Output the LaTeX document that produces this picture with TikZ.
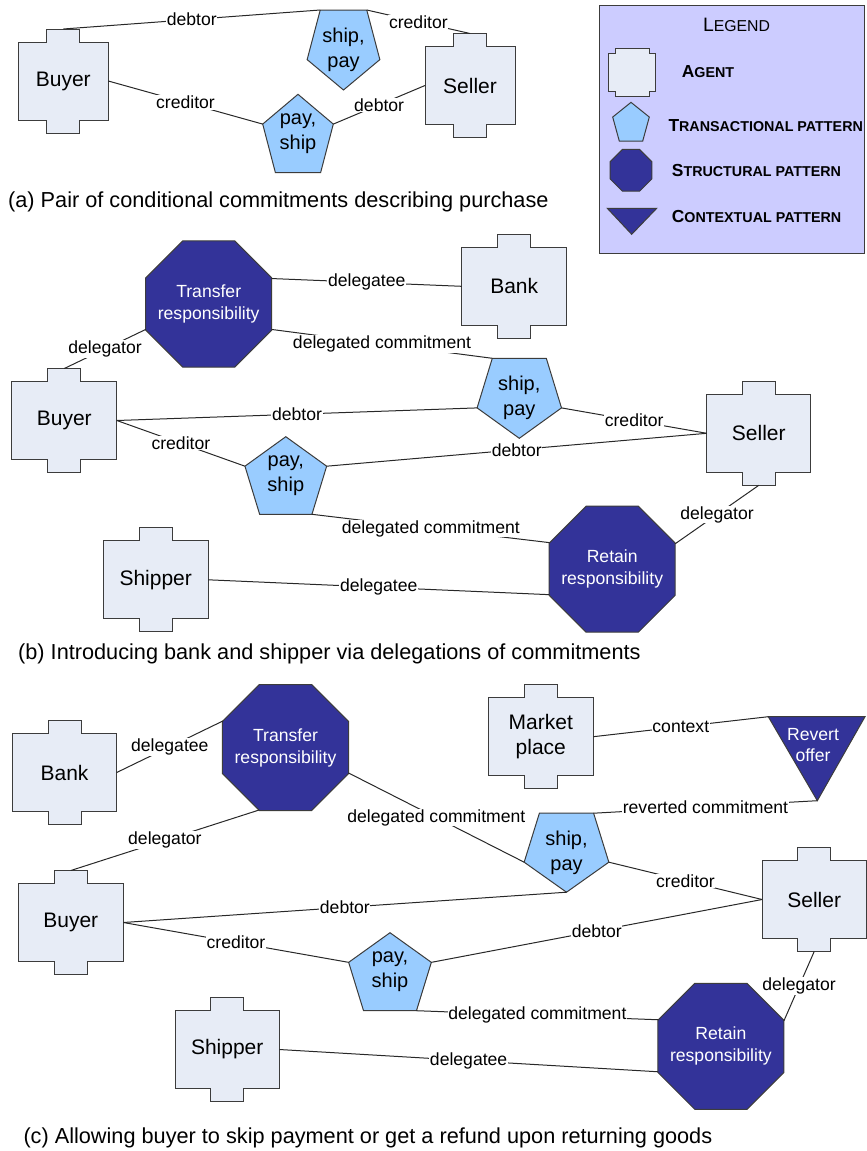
\documentclass[tikz,border=0pt]{standalone}
\usepackage{fontspec}
\setmainfont{Liberation Sans}
\usetikzlibrary{shapes.geometric}
\definecolor{agentfill}{RGB}{231,236,246}
\definecolor{transfill}{RGB}{153,204,255}
\definecolor{structfill}{RGB}{51,51,153}
\definecolor{legendfill}{RGB}{204,204,255}
\definecolor{linecol}{RGB}{40,40,40}
\definecolor{bordercol}{RGB}{60,60,60}
\tikzset{
  agentshape/.style={fill=agentfill, draw=bordercol, line width=1pt},
  agenttext/.style={rectangle, minimum height=78pt, inner sep=0pt, outer sep=0pt, draw=none, align=center, font=\fontsize{21}{25}\selectfont},
  transshape/.style={fill=transfill, draw=bordercol, line width=1pt},
  transtext/.style={inner sep=0pt, outer sep=0pt, align=center, font=\fontsize{20}{25}\selectfont},
  structpat/.style={regular polygon, regular polygon sides=8, minimum size=136.4pt, inner sep=0pt, outer sep=0pt, fill=structfill, draw=bordercol, line width=1pt},
  contextshape/.style={fill=structfill, draw=bordercol, line width=1pt},
  whitetext/.style={inner sep=0pt, text=white, align=center, font=\fontsize{17.6}{21}\selectfont},
  conn/.style={draw=linecol, line width=1pt},
  lbl/.style={midway, fill=white, inner sep=0.6pt, font=\fontsize{17.6}{20}\selectfont},
  caption/.style={anchor=base west, inner sep=0pt, font=\fontsize{21.7}{26}\selectfont},
  legtext/.style={anchor=base west, inner sep=0pt, font=\bfseries\fontsize{17.4}{20}\selectfont},
}
% agent: name, cx, cy, body width, text
\newcommand\agentnode[5]{%
  \draw[agentshape] (#2-#4/2,#3-39) -- (#2-16.5,#3-39) -- (#2-16.5,#3-52) -- (#2+16.5,#3-52) -- (#2+16.5,#3-39) -- (#2+#4/2,#3-39) -- (#2+#4/2,#3+39) -- (#2+16.5,#3+39) -- (#2+16.5,#3+52) -- (#2-16.5,#3+52) -- (#2-16.5,#3+39) -- (#2-#4/2,#3+39) -- cycle;
  \node[agenttext, minimum width=#4pt] (#1) at (#2,#3) {#5};
  \coordinate (#1-top) at (#2,#3-52);
  \coordinate (#1-bot) at (#2,#3+52);
}
% transactional pattern: name, cx, cy, W, H, dir (1 apex up, -1 apex down), text
\newcommand\transnode[7]{%
  \begin{scope}[shift={(#2,#3)}, yscale=#6]
    \draw[transshape] (0,-#5/2) coordinate (#1-a) -- (#4/2,-#5/2+0.38*#5) coordinate (#1-r) -- (0.32*#4,#5/2) coordinate (#1-br) -- (-0.32*#4,#5/2) coordinate (#1-bl) -- (-#4/2,-#5/2+0.38*#5) coordinate (#1-l) -- cycle;
  \end{scope}
  \node[transtext] (#1) at (#2,#3) {#7};
}
% structural pattern: name, position, text
\newcommand\structnode[3]{%
  \node[structpat] (#1) at (#2) {};
  \node[whitetext, font=\fontsize{17.6}{22}\selectfont] (#1-text) at (#1.center) {#3};
}
\newcommand\smc[2]{#1{\fontsize{14.3}{20}\selectfont #2}}
\begin{document}
\begin{tikzpicture}[x=1pt, y=-1pt]
\useasboundingbox (0,0) rectangle (867,1151);

% ---------------- Legend ----------------
\fill[legendfill, draw=bordercol, line width=1pt] (599,5) rectangle (864,253);
\node[anchor=base, inner sep=0pt, font=\fontsize{19.4}{20}\selectfont] (legtitle) at (736.5,31.7) {L{\fontsize{15.8}{20}\selectfont EGEND}};
\draw[agentshape] (608.3,53.3) -- (615,53.3) -- (615,48.3) -- (649,48.3) -- (649,53.3) -- (655,53.3) -- (655,91.7) -- (649,91.7) -- (649,96.7) -- (615,96.7) -- (615,91.7) -- (608.3,91.7) -- cycle;
\node[legtext] (legA) at (681.7,77.3) {\smc{A}{GENT}};
\transnode{legP}{631}{121.7}{36.6}{38.7}{1}{}
\node[legtext] (legT) at (668.3,131) {\smc{T}{RANSACTIONAL PATTERN}};
\node[structpat, minimum size=45.1pt] (legS) at (631,170.3) {};
\node[legtext] (legSt) at (671.7,176) {\smc{S}{TRUCTURAL PATTERN}};
\draw[contextshape] (607.3,208.3) -- (656.7,208.3) -- (631.7,234.3) -- cycle;
\node[legtext] (legC) at (671.7,222.3) {\smc{C}{ONTEXTUAL PATTERN}};

% ---------------- Panel (a) ----------------
\agentnode{aBuyer}{63.3}{81}{90}{Buyer}
\agentnode{aSeller}{470}{85.5}{90}{Seller}
\transnode{aSP}{343.5}{50}{72.7}{80}{-1}{ship,\\pay}
\transnode{aPS}{298}{133.5}{70.6}{78.4}{1}{pay,\\ship}
\draw[conn] (aBuyer-top) -- node[lbl]{debtor} (aSP-bl);
\draw[conn] (aSP-br) -- node[lbl]{creditor} (aSeller-top);
\draw[conn] (aBuyer.east) -- node[lbl]{creditor} (aPS-l);
\draw[conn] (aPS-r) -- node[lbl]{debtor} (aSeller.west);
\node[caption] (capA) at (8,207.3) {(a) Pair of conditional commitments describing purchase};

% ---------------- Panel (b) ----------------
\agentnode{bBank}{514.2}{286.3}{105}{Bank}
\agentnode{bBuyer}{64.3}{420.5}{105}{Buyer}
\agentnode{bSeller}{758.8}{433.3}{104}{Seller}
\agentnode{bShipper}{155.7}{579.8}{105}{Shipper}
\structnode{bTR}{208.7,304}{Transfer\\responsibility}
\structnode{bRR}{612.2,569.2}{Retain\\responsibility}
\transnode{bSP}{519.3}{398.3}{84.4}{80}{-1}{ship,\\pay}
\transnode{bPS}{285.8}{475.5}{81.7}{77.6}{1}{pay,\\ship}
\draw[conn] (bTR.22.5) -- node[lbl]{delegatee} (bBank.west);
\draw[conn] (bTR.202.5) -- node[lbl]{delegator} (bBuyer-top);
\draw[conn] (bTR.-22.5) -- node[lbl]{delegated commitment} (bSP-bl);
\draw[conn] (bBuyer.east) -- node[lbl]{debtor} (bSP-l);
\draw[conn] (bSP-r) -- node[lbl]{creditor} (bSeller.west);
\draw[conn] (bBuyer.east) -- node[lbl]{creditor} (bPS-l);
\draw[conn] (bPS-r) -- node[lbl]{debtor} (bSeller.west);
\draw[conn] (bPS-br) -- node[lbl]{delegated commitment} (bRR.157.5);
\draw[conn] (bShipper.east) -- node[lbl]{delegatee} (bRR.202.5);
\draw[conn] (bRR.22.5) -- node[lbl]{delegator} (bSeller-bot);
\node[caption] (capB) at (18,659) {(b) Introducing bank and shipper via delegations of commitments};

% ---------------- Panel (c) ----------------
\agentnode{cBank}{64.5}{772.5}{104.4}{Bank}
\agentnode{cMP}{540.8}{736.7}{105}{Market\\place}
\agentnode{cBuyer}{70.8}{922.5}{105}{Buyer}
\agentnode{cShipper}{227.2}{1049.5}{104.3}{Shipper}
\agentnode{cSeller}{814.2}{899.5}{104.3}{Seller}
\structnode{cTR}{285.5,747.5}{Transfer\\responsibility}
\structnode{cRR}{720.9,1046.3}{Retain\\responsibility}
\draw[contextshape] (768.3,716.7) coordinate (cRO-tl) -- (865,716.7) coordinate (cRO-tr) -- (817.3,800.7) coordinate (cRO-a) -- cycle;
\node[whitetext] (cRO) at (813,745) {Revert\\offer};
\transnode{cSP}{566.5}{852.7}{84.7}{79}{-1}{ship,\\pay}
\transnode{cPS}{390}{971.7}{82.7}{78}{1}{pay,\\ship}
\draw[conn] (cBank.east) -- node[lbl]{delegatee} (cTR.157.5);
\draw[conn] (cTR.247.5) -- node[lbl]{delegator} (cBuyer-top);
\draw[conn] (cTR.-22.5) -- node[lbl]{delegated commitment} (cSP-l);
\draw[conn] (cMP.east) -- node[lbl]{context} (cRO-tl);
\draw[conn] (cRO-a) -- node[lbl]{reverted commitment} (cSP-br);
\draw[conn] (cBuyer.east) -- node[lbl]{debtor} (cSP-a);
\draw[conn] (cSP-r) -- node[lbl]{creditor} (cSeller.west);
\draw[conn] (cBuyer.east) -- node[lbl]{creditor} (cPS-l);
\draw[conn] (cPS-r) -- node[lbl]{debtor} (cSeller.west);
\draw[conn] (cPS-br) -- node[lbl]{delegated commitment} (cRR.157.5);
\draw[conn] (cShipper.east) -- node[lbl]{delegatee} (cRR.202.5);
\draw[conn] (cRR.22.5) -- node[lbl]{delegator} (cSeller-bot);
\node[caption] (capC) at (23.3,1143.3) {(c) Allowing buyer to skip payment or get a refund upon returning goods};
\end{tikzpicture}
\end{document}
